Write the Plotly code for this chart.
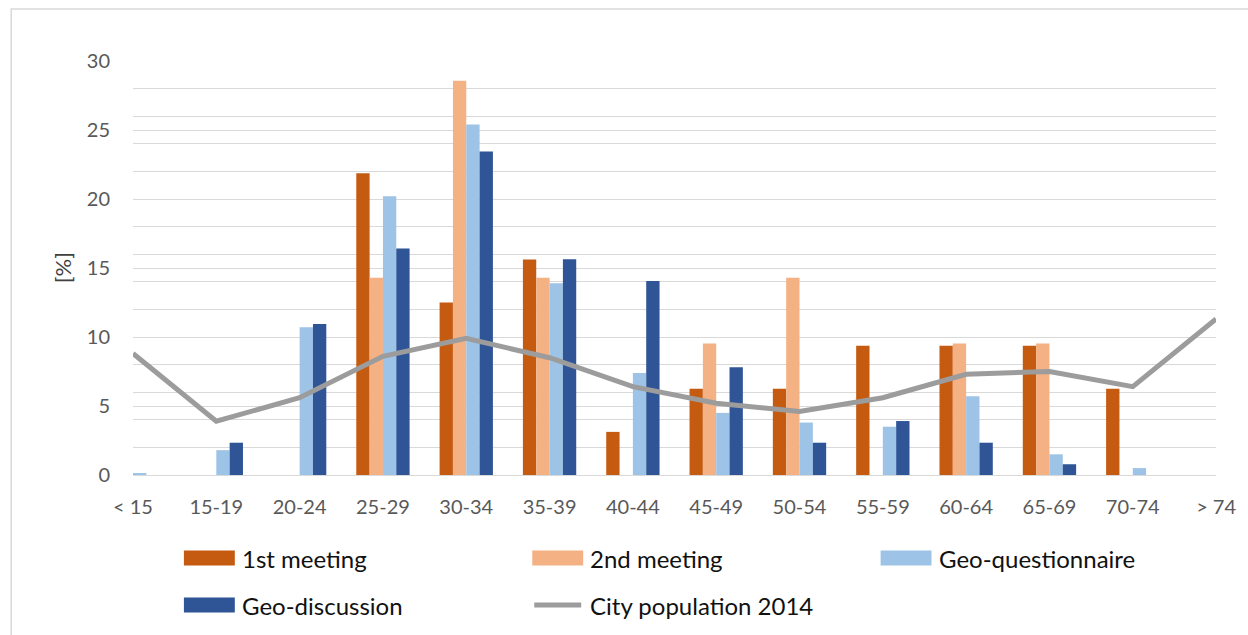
import plotly.graph_objects as go

# Age groups on the category axis
age_groups = ["< 15", "15-19", "20-24", "25-29", "30-34", "35-39", "40-44",
              "45-49", "50-54", "55-59", "60-64", "65-69", "70-74", "> 74"]

# Share of participants per age group [%]
first_meeting = [0, 0, 0, 21.875, 12.5, 15.625, 3.125, 6.25, 6.25, 9.375, 9.375, 9.375, 6.25, 0]
second_meeting = [0, 0, 0, 14.29, 28.57, 14.29, 0, 9.52, 14.29, 0, 9.52, 9.52, 0, 0]
geo_questionnaire = [0.1, 1.8, 10.7, 20.2, 25.4, 13.9, 7.4, 4.5, 3.8, 3.5, 5.7, 1.5, 0.5, 0.5]
geo_discussion = [0, 2.34, 10.94, 16.41, 23.44, 15.63, 14.06, 7.81, 2.34, 3.91, 2.34, 0.78, 0, 0]
city_population_2014 = [8.8, 3.9, 5.6, 8.6, 9.9, 8.5, 6.4, 5.2, 4.6, 5.6, 7.3, 7.5, 6.4, 11.3]

bar_series = [
    ("1st meeting", first_meeting, "#C55A11"),
    ("2nd meeting", second_meeting, "#F4B183"),
    ("Geo-questionnaire", geo_questionnaire, "#9DC3E6"),
    ("Geo-discussion", geo_discussion, "#2F5597"),
]
line_name = "City population 2014"
line_color = "#9C9C9C"

FONT = "Lato, 'Open Sans', sans-serif"
W, H = 1248, 635
M_L, M_R, M_T, M_B = 133, 30, 61, 160

fig = go.Figure()
for name, vals, color in bar_series:
    fig.add_trace(go.Bar(x=age_groups, y=vals, name=name,
                         marker=dict(color=color, line=dict(width=0))))
fig.add_trace(go.Scatter(x=age_groups, y=city_population_2014, name=line_name,
                         mode="lines", line=dict(color=line_color, width=5)))

fig.update_layout(
    width=W, height=H,
    margin=dict(l=M_L, r=M_R, t=M_T, b=M_B),
    paper_bgcolor="white", plot_bgcolor="white",
    barmode="group", bargap=0.36, bargroupgap=0,
    showlegend=False,
    font=dict(family=FONT, color="#595959", size=20),
)
fig.update_xaxes(
    type="category", categoryorder="array", categoryarray=age_groups,
    range=[0, 12.999], showgrid=False, zeroline=False,
    showline=True, linecolor="#D9D9D9", linewidth=1,
    ticks="", ticklabelstandoff=14,
    tickfont=dict(size=20, color="#595959", family=FONT),
)
fig.update_yaxes(
    range=[0, 30], tick0=0, dtick=5,
    showgrid=True, gridcolor="#D9D9D9", gridwidth=1,
    minor=dict(tick0=0, dtick=2, showgrid=True, gridcolor="#D9D9D9", gridwidth=1),
    zeroline=False, showline=False, ticks="", ticklabelstandoff=22,
    tickfont=dict(size=20, color="#595959", family=FONT),
)

plot_w = W - M_L - M_R
plot_h = H - M_T - M_B


def px_x(px):
    return (px - M_L) / plot_w


def px_y(py):
    return (H - M_B - py) / plot_h


shapes = []
annotations = []

# Chart area border
shapes.append(dict(type="rect", xref="paper", yref="paper",
                   x0=px_x(11), x1=px_x(1300), y0=px_y(9), y1=px_y(700),
                   line=dict(color="#D9D9D9", width=1.5), fillcolor="rgba(0,0,0,0)",
                   layer="below"))

# Axis title
annotations.append(dict(text="[%]", xref="paper", yref="paper",
                        x=px_x(62), y=px_y(268), showarrow=False, textangle=-90,
                        font=dict(size=22, color="#404040", family=FONT),
                        xanchor="center", yanchor="middle"))

# Legend laid out in three columns below the plot
legend_cols = [184, 533, 882]
legend_rows = [558, 605]
legend_items = [(name, color, "bar") for name, _, color in bar_series]
legend_items.append((line_name, line_color, "line"))
for i, (name, color, kind) in enumerate(legend_items):
    cx = legend_cols[i % 3]
    cy = legend_rows[i // 3]
    if kind == "bar":
        shapes.append(dict(type="rect", xref="paper", yref="paper",
                           x0=px_x(cx), x1=px_x(cx + 51),
                           y0=px_y(cy + 7.5), y1=px_y(cy - 7.5),
                           fillcolor=color, line=dict(width=0)))
    else:
        shapes.append(dict(type="line", xref="paper", yref="paper",
                           x0=px_x(cx + 2), x1=px_x(cx + 49),
                           y0=px_y(cy), y1=px_y(cy),
                           line=dict(color=color, width=5)))
    annotations.append(dict(text=name, xref="paper", yref="paper",
                            x=px_x(cx + 56), y=px_y(cy), showarrow=False,
                            xanchor="left", yanchor="middle",
                            font=dict(size=24, color="#111111", family=FONT)))

fig.update_layout(shapes=shapes, annotations=annotations)
fig.write_html("out.html")
